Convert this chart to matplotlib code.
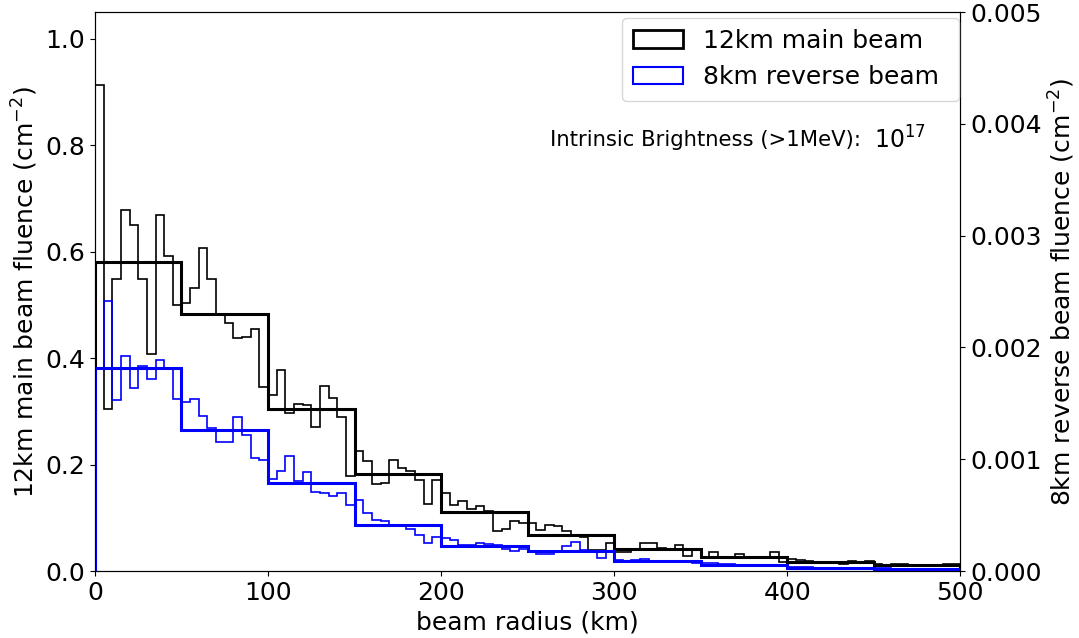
import numpy as np
import matplotlib
matplotlib.use("Agg")
import matplotlib.pyplot as plt
from matplotlib.patches import Patch

# bin edges: 5 km fine bins, 50 km coarse bins
fine_edges = np.arange(0, 505, 5)
coarse_edges = np.arange(0, 550, 50)

# 12km main beam fluence (cm^-2), fine bins
main_fine = [0.913, 0.304, 0.548, 0.679, 0.650, 0.548, 0.407, 0.669, 0.591, 0.500,
             0.504, 0.532, 0.606, 0.548, 0.481, 0.466, 0.437, 0.439, 0.455, 0.346,
             0.330, 0.377, 0.297, 0.314, 0.312, 0.270, 0.347, 0.325, 0.289, 0.179,
             0.225, 0.207, 0.164, 0.166, 0.208, 0.193, 0.187, 0.171, 0.126, 0.171,
             0.146, 0.124, 0.131, 0.116, 0.122, 0.112, 0.076, 0.079, 0.094, 0.091,
             0.090, 0.077, 0.087, 0.084, 0.076, 0.068, 0.064, 0.040, 0.040, 0.053,
             0.036, 0.036, 0.040, 0.053, 0.052, 0.043, 0.040, 0.048, 0.028, 0.041,
             0.026, 0.035, 0.026, 0.026, 0.032, 0.026, 0.024, 0.024, 0.036, 0.016,
             0.022, 0.020, 0.018, 0.017, 0.017, 0.017, 0.014, 0.018, 0.016, 0.018,
             0.014, 0.012, 0.014, 0.013, 0.012, 0.012, 0.012, 0.010, 0.014, 0.013]
main_coarse = [0.580, 0.482, 0.304, 0.183, 0.110, 0.068, 0.041, 0.026, 0.016, 0.011]

# 8km reverse beam fluence (cm^-2), fine bins
rev_fine = [1.81e-3, 2.42e-3, 1.53e-3, 1.92e-3, 1.64e-3, 1.83e-3, 1.72e-3, 1.89e-3, 1.82e-3, 1.54e-3,
            1.51e-3, 1.54e-3, 1.39e-3, 1.28e-3, 1.15e-3, 1.15e-3, 1.38e-3, 1.22e-3, 1.01e-3, 0.99e-3,
            8.26e-4, 8.95e-4, 1.03e-3, 8.02e-4, 8.88e-4, 7.11e-4, 6.98e-4, 6.74e-4, 6.98e-4, 5.95e-4,
            6.38e-4, 5.16e-4, 4.59e-4, 4.50e-4, 4.14e-4, 4.09e-4, 3.73e-4, 3.22e-4, 2.48e-4, 3.04e-4,
            2.92e-4, 2.77e-4, 2.33e-4, 2.33e-4, 2.48e-4, 2.42e-4, 2.33e-4, 1.97e-4, 1.82e-4, 1.97e-4,
            1.79e-4, 1.52e-4, 1.52e-4, 1.79e-4, 2.24e-4, 2.62e-4, 1.88e-4, 1.83e-4, 1.14e-4, 1.79e-4,
            9.8e-5, 9.0e-5, 9.8e-5, 1.05e-4, 9.2e-5, 9.0e-5, 8.7e-5, 8.1e-5, 7.8e-5, 7.2e-5,
            6.9e-5, 7.4e-5, 6.5e-5, 6.0e-5, 5.6e-5, 4.5e-5, 5.1e-5, 5.6e-5, 5.4e-5, 4.5e-5,
            3.8e-5, 3.6e-5, 3.3e-5, 3.1e-5, 3.0e-5, 3.0e-5, 2.7e-5, 2.7e-5, 2.7e-5, 2.4e-5,
            2.4e-5, 2.4e-5, 2.2e-5, 2.2e-5, 2.1e-5, 2.1e-5, 2.1e-5, 2.0e-5, 2.0e-5, 1.8e-5]
rev_coarse = [1.818e-3, 1.258e-3, 7.83e-4, 4.15e-4, 2.28e-4, 1.81e-4, 9.0e-5, 5.4e-5, 2.7e-5, 2.2e-5]

plt.rcParams['font.size'] = 18

fig = plt.figure(figsize=(10.79, 6.38), dpi=100)
ax = fig.add_axes([0.088, 0.105, 0.802, 0.876])
ax2 = ax.twinx()

# main beam on the left axis
ax.stairs(main_fine, fine_edges, color='black', linewidth=1.2)
ax.stairs(main_coarse, coarse_edges, color='black', linewidth=2.2)
ax.set_xlim(0, 500)
ax.set_ylim(0, 1.05)
ax.set_yticks([0.0, 0.2, 0.4, 0.6, 0.8, 1.0])
ax.set_xlabel('beam radius (km)')
ax.set_ylabel('12km main beam fluence (cm$^{-2}$)')

# reverse beam on the right axis
ax2.stairs(rev_fine, fine_edges, color='blue', linewidth=1.2)
ax2.stairs(rev_coarse, coarse_edges, color='blue', linewidth=2.2)
ax2.set_ylim(0, 0.005)
ax2.set_yticks([0.000, 0.001, 0.002, 0.003, 0.004, 0.005])
ax2.set_ylabel('8km reverse beam fluence (cm$^{-2}$)')

handles = [Patch(facecolor='none', edgecolor='black', linewidth=2),
           Patch(facecolor='none', edgecolor='blue', linewidth=1.5)]
ax2.legend(handles, ['12km main beam', '8km reverse beam '], loc='upper right',
           bbox_to_anchor=(0.998, 0.99), borderaxespad=0, fontsize=18,
           borderpad=0.45)

ax.text(0.885, 0.771, 'Intrinsic Brightness (>1MeV):', transform=ax.transAxes,
        ha='right', va='center', fontsize=15.2)
ax.text(0.9, 0.771, '$10^{17}$', transform=ax.transAxes,
        ha='left', va='center', fontsize=17)

fig.savefig('out.png', dpi=100)
